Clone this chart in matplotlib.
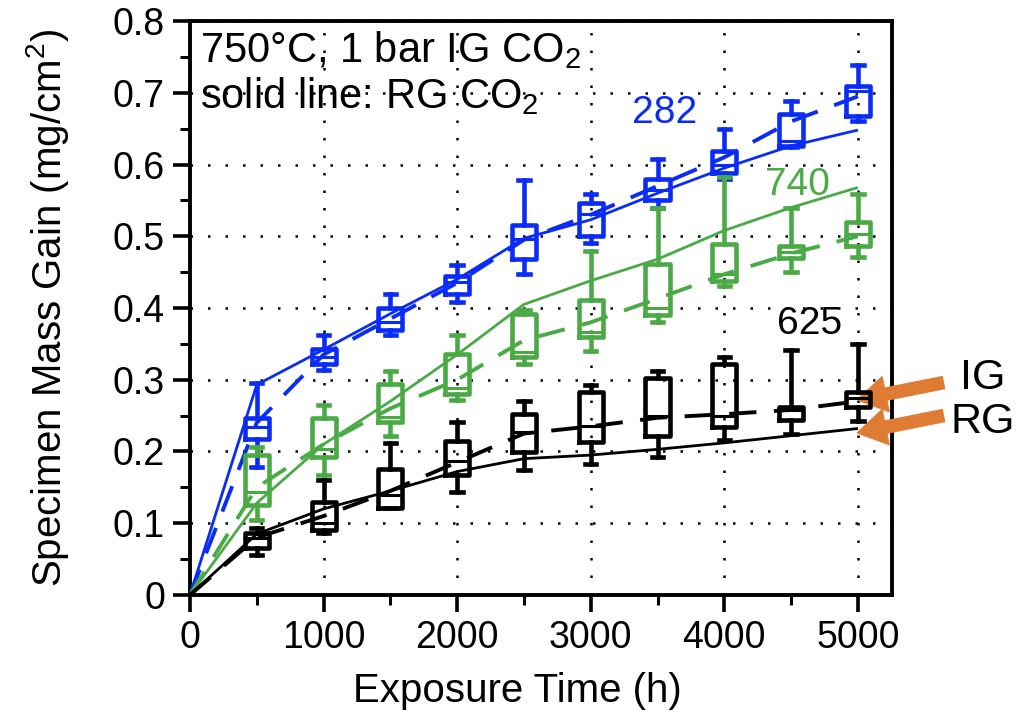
import matplotlib
matplotlib.use("Agg")
import matplotlib.pyplot as plt
from matplotlib.ticker import FixedLocator

FONT = ["Liberation Sans", "DejaVu Sans"]
plt.rcParams["font.family"] = FONT
plt.rcParams["mathtext.fontset"] = "custom"
plt.rcParams["mathtext.rm"] = "Liberation Sans"
plt.rcParams["mathtext.it"] = "Liberation Sans"

# exposure times (h)
times = [500, 1000, 1500, 2000, 2500, 3000, 3500, 4000, 4500, 5000]
line_times = [0] + times

x_ticks = [0, 1000, 2000, 3000, 4000, 5000]
x_minor = [500, 1500, 2500, 3500, 4500]
y_ticks = [0, 0.1, 0.2, 0.3, 0.4, 0.5, 0.6, 0.7, 0.8]
y_labels = ["0", "0.1", "0.2", "0.3", "0.4", "0.5", "0.6", "0.7", "0.8"]
y_minor = [0.05, 0.15, 0.25, 0.35, 0.45, 0.55, 0.65, 0.75]

# box statistics for IG CO2 exposures, per alloy
box_282 = dict(
    whislo=[0.178, 0.314, 0.362, 0.408, 0.448, 0.490, 0.540, 0.580, 0.624, 0.660],
    q1=[0.217, 0.322, 0.369, 0.420, 0.468, 0.501, 0.550, 0.588, 0.626, 0.668],
    med=[0.234, 0.332, 0.380, 0.436, 0.496, 0.531, 0.564, 0.600, 0.633, 0.703],
    q3=[0.247, 0.343, 0.400, 0.445, 0.515, 0.547, 0.580, 0.619, 0.670, 0.710],
    whishi=[0.295, 0.363, 0.420, 0.460, 0.578, 0.559, 0.608, 0.649, 0.689, 0.739],
)
box_740 = dict(
    whislo=[0.104, 0.167, 0.221, 0.272, 0.322, 0.340, 0.380, 0.431, 0.450, 0.471],
    q1=[0.126, 0.192, 0.241, 0.280, 0.331, 0.360, 0.390, 0.438, 0.469, 0.487],
    med=[0.144, 0.204, 0.248, 0.289, 0.338, 0.367, 0.400, 0.447, 0.478, 0.503],
    q3=[0.195, 0.247, 0.294, 0.336, 0.392, 0.411, 0.461, 0.489, 0.487, 0.520],
    whishi=[0.206, 0.265, 0.312, 0.362, 0.397, 0.480, 0.540, 0.582, 0.540, 0.559],
)
box_625 = dict(
    whislo=[0.056, 0.086, 0.121, 0.143, 0.174, 0.183, 0.193, 0.216, 0.225, 0.243],
    q1=[0.065, 0.090, 0.121, 0.167, 0.199, 0.213, 0.222, 0.234, 0.244, 0.262],
    med=[0.079, 0.100, 0.140, 0.187, 0.227, 0.235, 0.250, 0.250, 0.258, 0.274],
    q3=[0.087, 0.130, 0.176, 0.214, 0.252, 0.283, 0.303, 0.322, 0.262, 0.283],
    whishi=[0.093, 0.160, 0.212, 0.241, 0.271, 0.292, 0.312, 0.331, 0.341, 0.350],
)

# IG CO2 trend (dashed) and RG CO2 trend (solid), starting at t = 0
ig_282 = [0, 0.240, 0.335, 0.385, 0.435, 0.495, 0.530, 0.570, 0.610, 0.660, 0.695]
rg_282 = [0, 0.293, 0.342, 0.392, 0.440, 0.497, 0.523, 0.560, 0.595, 0.626, 0.648]
ig_740 = [0, 0.150, 0.210, 0.260, 0.300, 0.355, 0.380, 0.413, 0.447, 0.476, 0.500]
rg_740 = [0, 0.128, 0.210, 0.270, 0.335, 0.405, 0.438, 0.468, 0.508, 0.540, 0.568]
ig_625 = [0, 0.080, 0.110, 0.145, 0.185, 0.225, 0.235, 0.247, 0.252, 0.258, 0.270]
rg_625 = [0, 0.085, 0.120, 0.145, 0.172, 0.190, 0.195, 0.203, 0.212, 0.222, 0.232]

alloys = ["282", "740", "625"]
colors = {"282": "#0a2cf5", "740": "#4aaa45", "625": "#000000"}
boxes = {"282": box_282, "740": box_740, "625": box_625}
ig_lines = {"282": ig_282, "740": ig_740, "625": ig_625}
rg_lines = {"282": rg_282, "740": rg_740, "625": rg_625}
label_pos = {"282": (3550, 0.672), "740": (4545, 0.572), "625": (4640, 0.378)}

arrow_color = "#e07b34"

fig = plt.figure(figsize=(10.18, 7.27), dpi=100)
ax = fig.add_axes([0.1866, 0.1816, 0.6896, 0.7895])

for a in alloys:
    c = colors[a]
    ax.plot(line_times, rg_lines[a], color=c, lw=2.0, solid_capstyle="butt", zorder=3)
    ax.plot(line_times, ig_lines[a], color=c, lw=2.8, dashes=(7, 4.5), zorder=3)
    b = boxes[a]
    stats = [
        dict(whislo=b["whislo"][i], q1=b["q1"][i], med=b["med"][i],
             q3=b["q3"][i], whishi=b["whishi"][i])
        for i in range(len(times))
    ]
    lp = dict(color=c, lw=3.3)
    ax.bxp(stats, positions=times, widths=180, capwidths=85, showfliers=False,
           manage_ticks=False, boxprops=lp, whiskerprops=lp, capprops=lp,
           medianprops=dict(color=c, lw=2.2), zorder=4)
    ax.text(*label_pos[a], a, color=c, fontsize=28, ha="center", va="center")

ax.set_xlim(0, 5255)
ax.set_ylim(0, 0.8)
ax.xaxis.set_major_locator(FixedLocator(x_ticks))
ax.xaxis.set_minor_locator(FixedLocator(x_minor))
ax.set_yticks(y_ticks, y_labels)
ax.yaxis.set_minor_locator(FixedLocator(y_minor))

ax.tick_params(which="major", direction="out", length=12, width=2.6, labelsize=27, pad=6)
ax.tick_params(which="minor", direction="out", length=7, width=2.2)
for s in ax.spines.values():
    s.set_linewidth(2.8)

ax.grid(True, which="major", color="black", lw=1.8, linestyle=(0, (1, 6)))
ax.set_axisbelow(True)

ax.set_xlabel("Exposure Time (h)", fontsize=29)
ax.xaxis.set_label_coords(0.466, -0.135)
ax.set_ylabel("Specimen Mass Gain (mg/cm$^2$)", fontsize=29)
ax.yaxis.set_label_coords(-0.17, 0.5)

ax.text(0.015, 0.985, "750°C, 1 bar IG CO$_2$\nsolid line: RG CO$_2$",
        transform=ax.transAxes, fontsize=30, va="top", ha="left", linespacing=1.12)

# IG / RG pointers outside the plot area
arrow_style = "simple,head_length=1.3,head_width=1.6,tail_width=0.55"
ax.annotate("", xy=(4995, 0.272), xytext=(5640, 0.296),
            arrowprops=dict(arrowstyle=arrow_style, color=arrow_color,
                            mutation_scale=16, shrinkA=0, shrinkB=0),
            annotation_clip=False)
ax.annotate("", xy=(4995, 0.226), xytext=(5640, 0.250),
            arrowprops=dict(arrowstyle=arrow_style, color=arrow_color,
                            mutation_scale=16, shrinkA=0, shrinkB=0),
            annotation_clip=False)
fig.text(983 / 1018, 1 - 378 / 727, "IG", fontsize=31, ha="center", va="center")
fig.text(983 / 1018, 1 - 422 / 727, "RG", fontsize=31, ha="center", va="center")

fig.savefig("out.png", dpi=100)
